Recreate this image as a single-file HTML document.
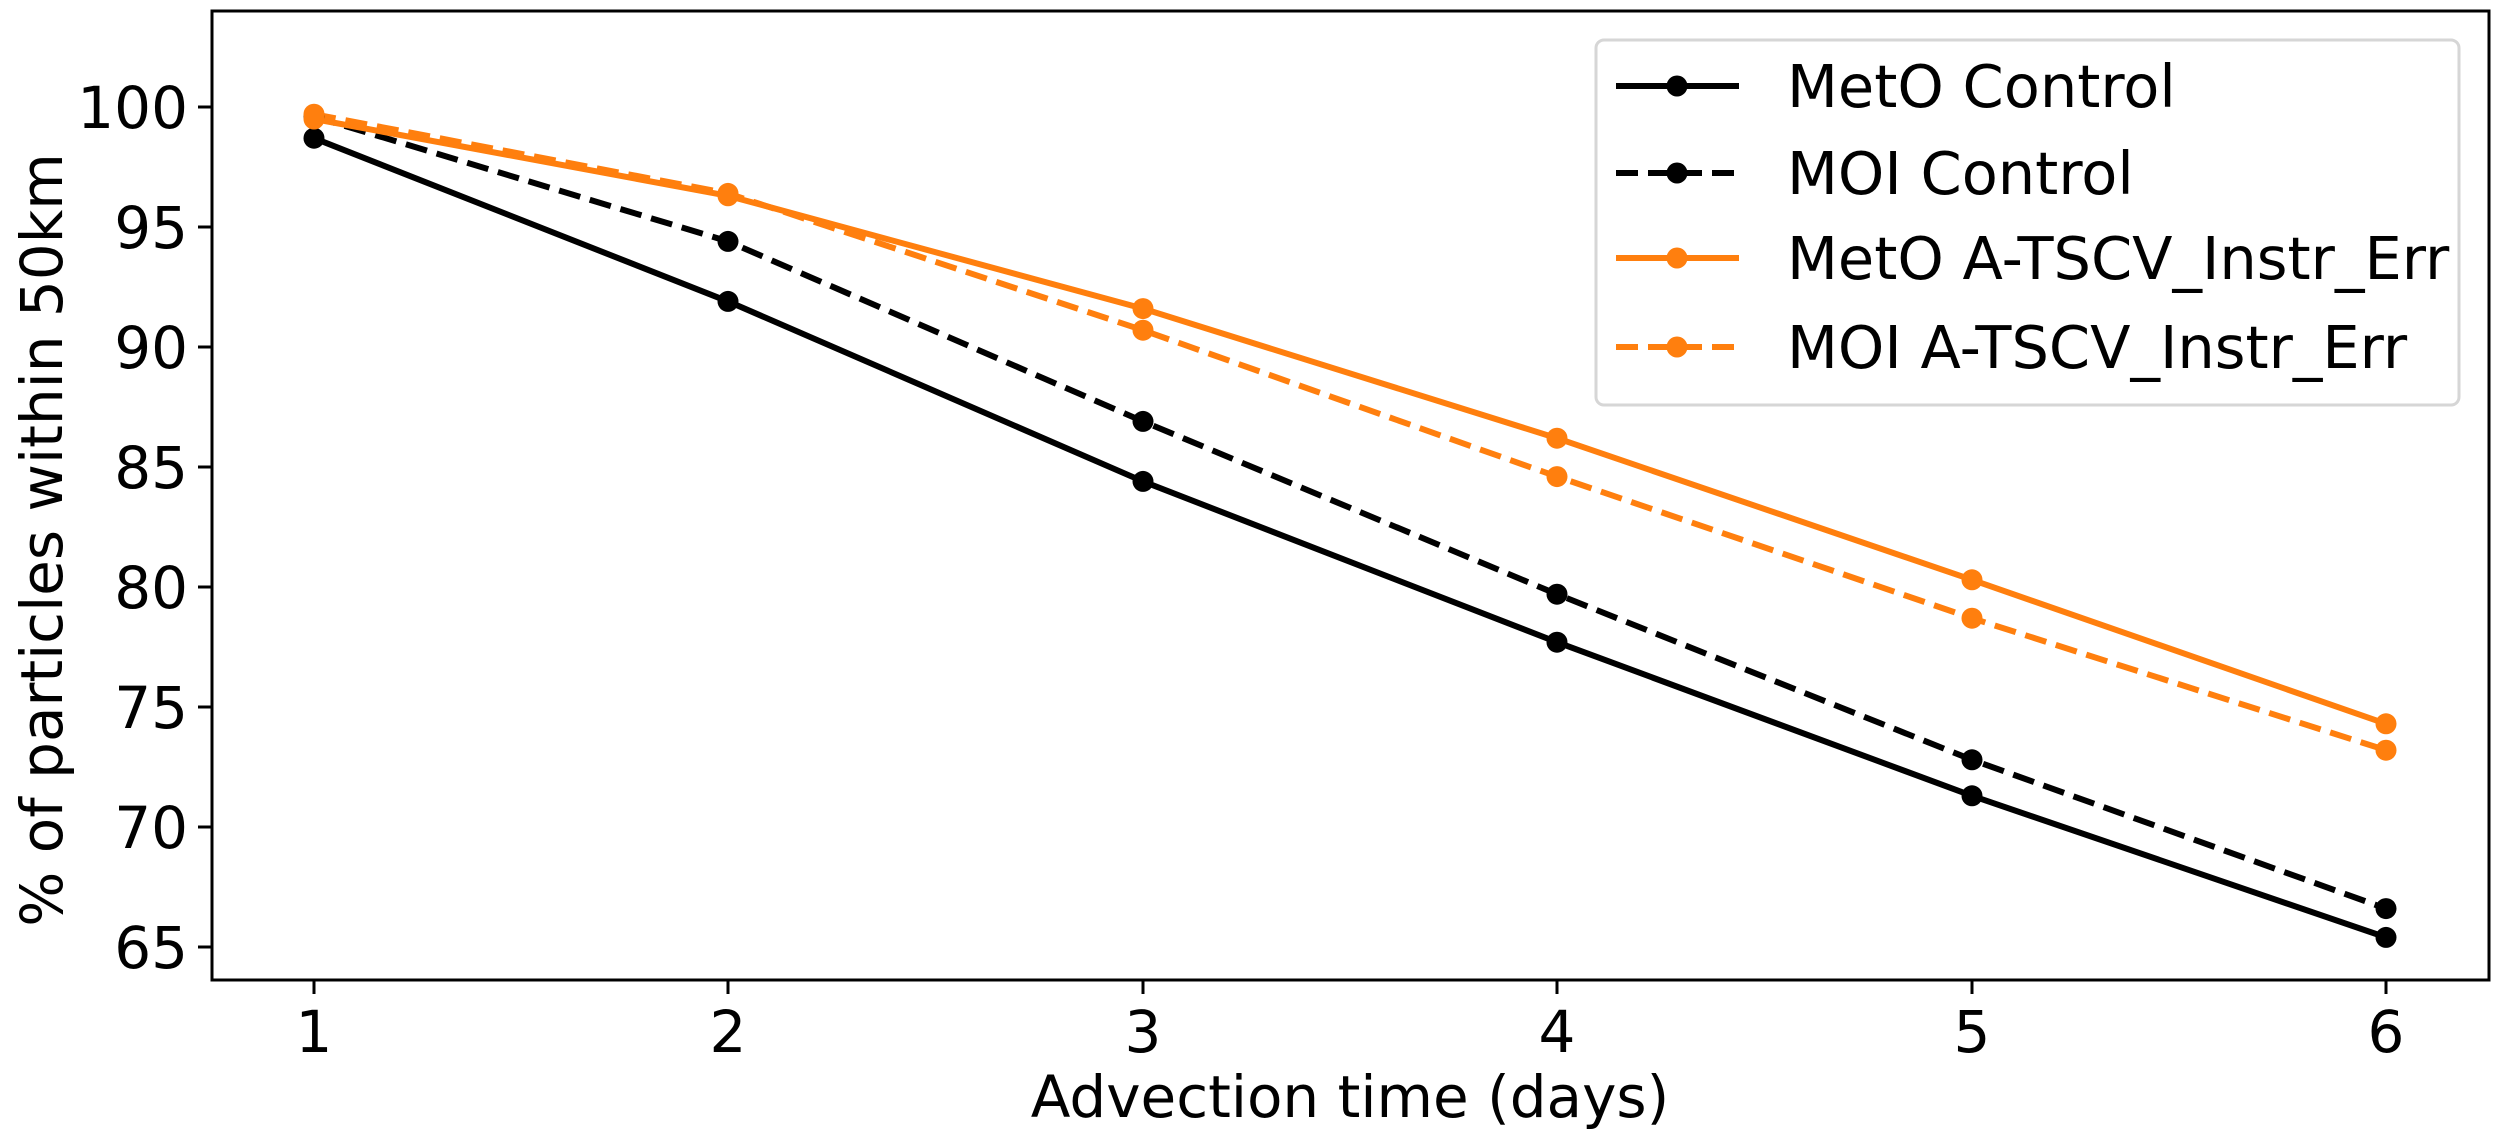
<!DOCTYPE html>
<html><head><style>body{margin:0;background:#fff}svg{display:block}text{font-family:"DejaVu Sans","Liberation Sans",sans-serif;fill:#000}</style></head>
<body>
<svg width="2500" height="1133" viewBox="0 0 2500 1133" xmlns="http://www.w3.org/2000/svg">
<rect x="0" y="0" width="2500" height="1133" fill="#fff"/>
<g stroke="#000" stroke-width="3">
<line x1="314" y1="980" x2="314" y2="994"/><line x1="728" y1="980" x2="728" y2="994"/><line x1="1143" y1="980" x2="1143" y2="994"/><line x1="1557" y1="980" x2="1557" y2="994"/><line x1="1972" y1="980" x2="1972" y2="994"/><line x1="2386" y1="980" x2="2386" y2="994"/>
<line x1="198" y1="107" x2="212" y2="107"/><line x1="198" y1="227" x2="212" y2="227"/><line x1="198" y1="347" x2="212" y2="347"/><line x1="198" y1="467" x2="212" y2="467"/><line x1="198" y1="587" x2="212" y2="587"/><line x1="198" y1="707" x2="212" y2="707"/><line x1="198" y1="827" x2="212" y2="827"/><line x1="198" y1="947" x2="212" y2="947"/>
</g>
<g font-size="58" text-anchor="middle">
<text x="314" y="1052">1</text><text x="728" y="1052">2</text><text x="1143" y="1052">3</text><text x="1557" y="1052">4</text><text x="1972" y="1052">5</text><text x="2386" y="1052">6</text>
</g>
<g font-size="58" text-anchor="end">
<text x="188" y="128">100</text><text x="188" y="248">95</text><text x="188" y="368">90</text><text x="188" y="488">85</text><text x="188" y="608">80</text><text x="188" y="728">75</text><text x="188" y="848">70</text><text x="188" y="968">65</text>
</g>
<text x="1350" y="1117" font-size="58" text-anchor="middle">Advection time (days)</text>
<text transform="translate(62,540) rotate(-90)" font-size="58" text-anchor="middle">% of particles within 50km</text>
<g fill="none" stroke-width="6" stroke-linejoin="round">
<polyline stroke="#000" points="314,138.2 728,301.4 1143,481.4 1557,642.2 1972,795.8 2386,937.4"/>
<polyline stroke="#000" stroke-dasharray="22,10" points="314,116.6 728,241.4 1143,421.4 1557,594.2 1972,759.8 2386,908.6"/>
<polyline stroke="#ff7f0e" points="314,119 728,195.8 1143,308.6 1557,438.2 1972,579.8 2386,723.8"/>
<polyline stroke="#ff7f0e" stroke-dasharray="22,10" points="314,114.2 728,193.4 1143,330.2 1557,476.6 1972,618.2 2386,750.2"/>
</g>
<g fill="#000">
<circle cx="314" cy="138.2" r="10.5"/><circle cx="728" cy="301.4" r="10.5"/><circle cx="1143" cy="481.4" r="10.5"/><circle cx="1557" cy="642.2" r="10.5"/><circle cx="1972" cy="795.8" r="10.5"/><circle cx="2386" cy="937.4" r="10.5"/>
<circle cx="314" cy="116.6" r="10.5"/><circle cx="728" cy="241.4" r="10.5"/><circle cx="1143" cy="421.4" r="10.5"/><circle cx="1557" cy="594.2" r="10.5"/><circle cx="1972" cy="759.8" r="10.5"/><circle cx="2386" cy="908.6" r="10.5"/>
</g>
<g fill="#ff7f0e">
<circle cx="314" cy="119" r="10.5"/><circle cx="728" cy="195.8" r="10.5"/><circle cx="1143" cy="308.6" r="10.5"/><circle cx="1557" cy="438.2" r="10.5"/><circle cx="1972" cy="579.8" r="10.5"/><circle cx="2386" cy="723.8" r="10.5"/>
<circle cx="314" cy="114.2" r="10.5"/><circle cx="728" cy="193.4" r="10.5"/><circle cx="1143" cy="330.2" r="10.5"/><circle cx="1557" cy="476.6" r="10.5"/><circle cx="1972" cy="618.2" r="10.5"/><circle cx="2386" cy="750.2" r="10.5"/>
</g>
<rect x="212" y="11" width="2277" height="969" fill="none" stroke="#000" stroke-width="3"/>
<rect x="1596" y="40" width="863" height="365" rx="8" fill="#fff" fill-opacity="0.8" stroke="#d6d6d6" stroke-width="3"/>
<g stroke-width="6">
<line x1="1616" y1="86" x2="1739" y2="86" stroke="#000"/>
<line x1="1616" y1="173" x2="1739" y2="173" stroke="#000" stroke-dasharray="22,10"/>
<line x1="1616" y1="258" x2="1739" y2="258" stroke="#ff7f0e"/>
<line x1="1616" y1="347" x2="1739" y2="347" stroke="#ff7f0e" stroke-dasharray="22,10"/>
</g>
<circle cx="1677" cy="86" r="10.5" fill="#000"/><circle cx="1677" cy="173" r="10.5" fill="#000"/>
<circle cx="1677" cy="258" r="10.5" fill="#ff7f0e"/><circle cx="1677" cy="347" r="10.5" fill="#ff7f0e"/>
<g font-size="59">
<text x="1787" y="107">MetO Control</text>
<text x="1787" y="194">MOI Control</text>
<text x="1787" y="279">MetO A-TSCV_Instr_Err</text>
<text x="1787" y="368">MOI A-TSCV_Instr_Err</text>
</g>
</svg>
</body></html>
